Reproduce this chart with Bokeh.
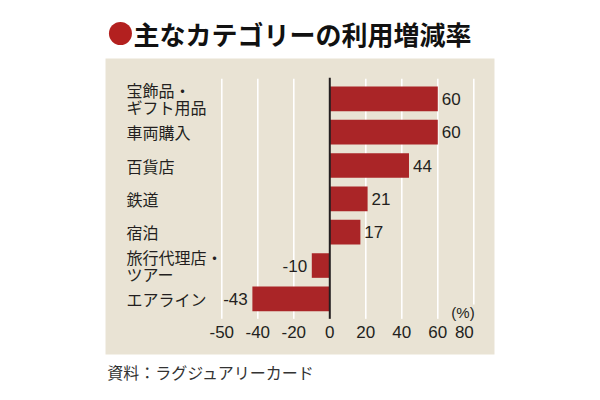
from bokeh.plotting import figure
from bokeh.models import ColumnDataSource, Range1d
from bokeh.core.properties import value
from bokeh.embed import file_html
from bokeh.resources import INLINE

# ---- data ----
categories = ["宝飾品・\nギフト用品", "車両購入", "百貨店", "鉄道", "宿泊", "旅行代理店・\nツアー", "エアライン"]
values = [60, 60, 44, 21, 17, -10, -43]
x_ticks = [-60, -40, -20, 0, 20, 40, 60, 80]
tick_labels = ["-50", "-40", "-20", "0", "20", "40", "60", "80"]
title_text = "主なカテゴリーの利用増減率"
source_text = "資料：ラグジュアリーカード"
unit_text = "(%)"

BAR = "#aa2527"
BG = "#e9e3d4"
INK = "#231f20"
JP = "Noto Sans CJK JP"
NUM = "Liberation Sans"

n = len(categories)
ypos = list(range(n))

p = figure(width=592, height=392, output_backend="svg", toolbar_location=None,
           x_range=Range1d(-182.94, 145.95), y_range=Range1d(8.81, -2.95),
           min_border=0, x_axis_location=None, y_axis_location=None)
p.background_fill_color = "white"
p.border_fill_color = "white"
p.outline_line_color = None
p.xgrid.visible = False
p.ygrid.visible = False

# beige panel
p.quad(left=[-124.6], right=[91.5], top=[-1.21], bottom=[7.67],
       fill_color=BG, line_color=None)

# grid lines (white)
grid_x = [t for t in x_ticks if t != 0]
p.segment(x0=grid_x, x1=grid_x, y0=[-0.6] * len(grid_x), y1=[n - 0.4] * len(grid_x),
          line_color="white", line_width=1.6)

# bars
src = ColumnDataSource(dict(y=ypos, v=values))
p.hbar(y="y", left=0, right="v", height=0.74, source=src, fill_color=BAR, line_color=None)

# zero line
p.segment(x0=[0], x1=[0], y0=[-0.63], y1=[n - 0.4], line_color=INK, line_width=2)

# value labels
pos_i = [i for i in range(n) if values[i] >= 0]
neg_i = [i for i in range(n) if values[i] < 0]
p.text(x=[values[i] + 2.2 for i in pos_i], y=pos_i, text=[str(values[i]) for i in pos_i],
       text_align="left", text_baseline="middle",
       text_font=value(NUM), text_font_size="17px", text_color=INK)
p.text(x=[values[i] - 2.6 for i in neg_i], y=neg_i, text=[str(values[i]) for i in neg_i],
       text_align="right", text_baseline="middle",
       text_font=value(NUM), text_font_size="17px", text_color=INK)

# category labels
p.text(x=[-112.9] * n, y=ypos, text=categories, text_align="left", text_baseline="middle",
       text_font=value(JP), text_font_size="16px", text_color=INK, text_line_height=0.72)

# tick labels
p.text(x=x_ticks[:-1], y=[n] * (len(x_ticks) - 1), text=tick_labels[:-1], text_align="center",
       text_baseline="middle", text_font=value(NUM), text_font_size="17px", text_color=INK)
p.text(x=x_ticks[-1:], y=[n], text=tick_labels[-1:], text_align="right",
       text_baseline="middle", text_font=value(NUM), text_font_size="17px", text_color=INK)

# unit label, over a small patch of background that interrupts the last grid line
p.quad(left=[x_ticks[-1] - 13], right=[x_ticks[-1] + 1.5], top=[n - 0.83], bottom=[n - 0.4],
       fill_color=BG, line_color=None)
p.text(x=[x_ticks[-1] + 0.5], y=[n - 0.6], text=[unit_text], text_align="right",
       text_baseline="middle", text_font=value(NUM), text_font_size="15px", text_color=INK)

# title with red dot
p.scatter(x=[-116.3], y=[-1.96], size=23, marker="circle", fill_color="#b3201f", line_color=None)
p.text(x=[-109.0], y=[-1.96], text=[title_text], text_align="left", text_baseline="middle",
       text_font=value(JP), text_font_size="26px", text_font_style="bold", text_color="#111111")

# source
p.text(x=[-123.7], y=[8.2], text=[source_text], text_align="left", text_baseline="middle",
       text_font=value(JP), text_font_size="16px", text_color="#333333")

open("out.html", "w").write(file_html(p, INLINE))
